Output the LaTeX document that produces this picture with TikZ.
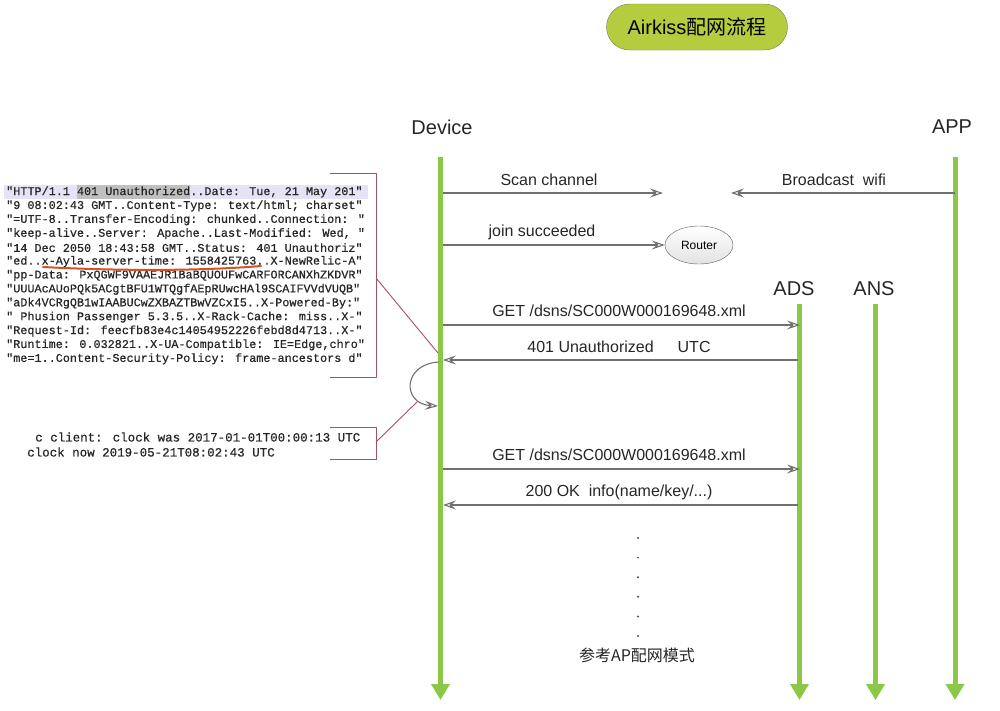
\documentclass[tikz,border=0pt]{standalone}
\usepackage{fontspec}
\setmainfont{Liberation Sans}
\newfontfamily\cjk{Noto Sans CJK SC}
\newfontfamily\codefont[FakeBold=0.6]{Liberation Mono}
\usetikzlibrary{arrows.meta,positioning,shapes.geometric}
\definecolor{lifegreen}{RGB}{140,200,72}
\definecolor{msggray}{RGB}{112,112,112}
\definecolor{bracketred}{RGB}{160,82,100}
\definecolor{titlegreen}{RGB}{180,204,62}
\definecolor{titleborder}{RGB}{120,124,84}
\definecolor{lineblue}{RGB}{228,228,246}
\definecolor{markgray}{RGB}{192,192,192}
\definecolor{penred}{RGB}{214,82,36}
\begin{document}
\begin{tikzpicture}[x=1pt,y=-1pt,line join=round,
  life/.style={draw=lifegreen,line width=5pt,line cap=butt,-{Triangle[length=16pt,width=18pt]}},
  msg/.style={draw=msggray,line width=1.1pt,-{Stealth[open,length=13pt,width=9pt,inset=5pt]}},
  lbl/.style={font=\fontsize{16}{19}\selectfont,text=black!85},
  actor/.style={font=\fontsize{20}{24}\selectfont,text=black!85},
  codeline/.style={anchor=west,inner sep=0pt,text=black!85,font=\codefont\fontsize{11.8}{14}\selectfont},
  clockline/.style={anchor=west,inner sep=0pt,text=black!85,font=\codefont\fontsize{12.5}{15}\selectfont},
  brk/.style={draw=bracketred,line width=0.9pt}]
\useasboundingbox (0,0) rectangle (1000,710);

% title
\node[draw=titleborder,fill=titlegreen,rounded corners=23pt,minimum width=181pt,minimum height=46pt,
  font=\fontsize{20}{24}\selectfont] (title) at (697,27) {Airkiss{\cjk 配网流程}};

% actors and lifelines
\node[actor] (device) at (442,127) {Device};
\node[actor] (app) at (952,127) {APP};
\node[actor] (ads) at (794,289) {ADS};
\node[actor] (ans) at (874,289) {ANS};
\foreach \n/\x/\y in {dev/440.5/157,ads/799.5/304,ans/875.5/304,app/955/157}{
  \coordinate (\n top) at (\x,\y);
  \coordinate (\n end) at (\x,700);
  \draw[life] (\n top) -- (\n end);
}

% messages
\coordinate (scan a) at (443,193); \coordinate (scan b) at (663,193);
\coordinate (bc a) at (955,193); \coordinate (bc b) at (731,193);
\coordinate (join a) at (443,245);
\coordinate (get1 a) at (443,325); \coordinate (get1 b) at (800,325);
\coordinate (err a) at (798,360); \coordinate (err b) at (443,360);
\coordinate (get2 a) at (443,469); \coordinate (get2 b) at (800,469);
\coordinate (ok a) at (798,505); \coordinate (ok b) at (443,505);
\node[lbl] (scan) at (549,180) {Scan channel};
\node[lbl] (bc) at (834,180) {Broadcast\ \ wifi};
\node[lbl] (join) at (542,232) {join succeeded};
\node[draw=gray!75!black,ellipse,top color=white,bottom color=gray!22,minimum width=68pt,minimum height=38pt,
  inner sep=0pt,font=\fontsize{12}{14}\selectfont] (router) at (699,245) {Router};
\node[lbl] (get1) at (619,311) {GET /dsns/SC000W000169648.xml};
\node[lbl] (err) at (619,347) {401 Unauthorized\hspace{24pt}UTC};
\node[lbl] (get2) at (619,455) {GET /dsns/SC000W000169648.xml};
\node[lbl] (ok) at (619,492) {200 OK\ \ info(name/key/...)};
\draw[msg] (scan a) -- (scan b);
\draw[msg] (bc a) -- (bc b);
\draw[msg] (join a) -- (router);
\draw[msg] (get1 a) -- (get1 b);
\draw[msg] (err a) -- (err b);
\draw[msg] (get2 a) -- (get2 b);
\draw[msg] (ok a) -- (ok b);
\coordinate (loop a) at (439,362); \coordinate (loop b) at (438,406);
\draw[msg] (loop a) .. controls (402,364) and (402,404) .. (loop b);

% dots and note
\foreach \i in {0,...,5}\fill[black!70] (638,{538+19.6*\i}) circle (1.1pt);
\node[lbl,font=\cjk\fontsize{16}{19}\selectfont] (apmode) at (637,655) {参考AP配网模式};

% captured response
\fill[lineblue] (4,185) rectangle (368,199);
\fill[markgray] (77,185) rectangle (190,199);
\node[codeline] (c1) at (6,192) {"HTTP/1.1 401 Unauthorized..Date: Tue, 21 May 201"};
\node[codeline] (c2) at (6,205.9) {"9 08:02:43 GMT..Content-Type: text/html; charset"};
\node[codeline] (c3) at (6,219.8) {"=UTF-8..Transfer-Encoding: chunked..Connection: "};
\node[codeline] (c4) at (6,233.7) {"keep-alive..Server: Apache..Last-Modified: Wed, "};
\node[codeline] (c5) at (6,247.6) {"14 Dec 2050 18:43:58 GMT..Status: 401 Unauthoriz"};
\node[codeline] (c6) at (6,261.5) {"ed..x-Ayla-server-time: 1558425763..X-NewRelic-A"};
\node[codeline] (c7) at (6,275.4) {"pp-Data: PxQGWF9VAAEJR1BaBQUOUFwCARFORCANXhZKDVR"};
\node[codeline] (c8) at (6,289.3) {"UUUAcAUoPQk5ACgtBFU1WTQgfAEpRUwcHAl9SCAIFVVdVUQB"};
\node[codeline] (c9) at (6,303.2) {"aDk4VCRgQB1wIAABUCwZXBAZTBwVZCxI5..X-Powered-By:"};
\node[codeline] (c10) at (6,317.1) {" Phusion Passenger 5.3.5..X-Rack-Cache: miss..X-"};
\node[codeline] (c11) at (6,331) {"Request-Id: feecfb83e4c14054952226febd8d4713..X-"};
\node[codeline] (c12) at (6,344.9) {"Runtime: 0.032821..X-UA-Compatible: IE=Edge,chro"};
\node[codeline] (c13) at (6,358.8) {"me=1..Content-Security-Policy: frame-ancestors d"};
\draw[penred,line width=2pt,line cap=round] (43,267) .. controls (120,271) and (200,271) .. (261,266);
\node[clockline] (clk1) at (35,437) {c client: clock was 2017-01-01T00:00:13 UTC};
\node[clockline] (clk2) at (27,452) {clock now 2019-05-21T08:02:43 UTC};

% brackets
\coordinate (brk1) at (376,278); \coordinate (brk1 dev) at (438,353);
\coordinate (brk2) at (376,442); \coordinate (brk2 dev) at (417,402);
\draw[brk] (330,173) -- (376,173) -- (376,377) -- (330,377);
\draw[brk] (330,427) -- (376,427) -- (376,459) -- (330,459);
\draw[brk] (brk1) -- (brk1 dev);
\draw[brk] (brk2) -- (brk2 dev);
\end{tikzpicture}
\end{document}
